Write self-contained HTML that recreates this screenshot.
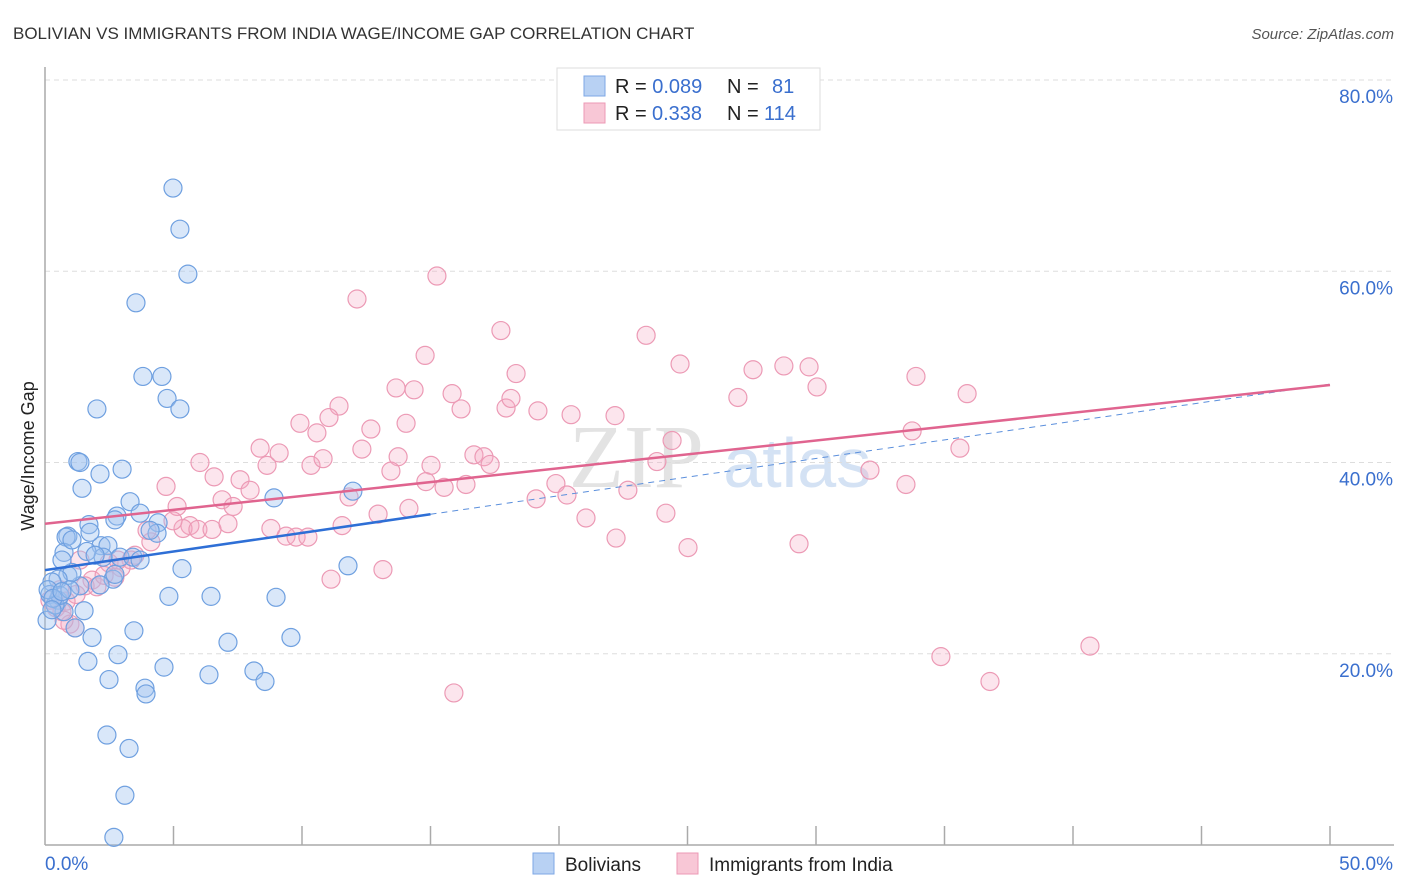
<!DOCTYPE html>
<html><head><meta charset="utf-8">
<style>
body{margin:0;background:#fff;font-family:"Liberation Sans",sans-serif;}
#wrap{position:relative;width:1406px;height:892px;overflow:hidden;}
</style></head>
<body>
<div id="wrap">
<svg id="chart" width="1406" height="892">
<text x="13" y="39" font-size="17" fill="#333">BOLIVIAN VS IMMIGRANTS FROM INDIA WAGE/INCOME GAP CORRELATION CHART</text>
<text x="1394" y="39" font-size="15" fill="#555" text-anchor="end" font-style="italic">Source: ZipAtlas.com</text>
<text x="720" y="487" font-size="90" fill="#e3e3e3" text-anchor="middle" font-family="Liberation Serif,serif">ZIP<tspan fill="#d4e2f4" font-family="Liberation Sans,sans-serif" font-size="70"> atlas</tspan></text>
<text transform="translate(34,456) rotate(-90)" font-size="18" fill="#222" text-anchor="middle">Wage/Income Gap</text>
<g id="grid"></g><g id="pts"></g><g id="lines"></g>
<g>
<rect x="557" y="68" width="263" height="62" fill="#fff" stroke="#ddd"/>
<rect x="584" y="76" width="21" height="20" fill="#b8d1f3" stroke="#7ea7e6"/>
<rect x="584" y="103" width="21" height="20" fill="#f8c7d6" stroke="#ec9ab5"/>
<text x="615" y="93" font-size="20" fill="#222">R = <tspan fill="#3a6fce">0.089</tspan><tspan x="727">N = </tspan><tspan x="772" fill="#3a6fce">81</tspan></text>
<text x="615" y="120" font-size="20" fill="#222">R = <tspan x="652" fill="#3a6fce">0.338</tspan><tspan x="727">N = </tspan><tspan x="764" fill="#3a6fce">114</tspan></text>
</g>
<g>
<rect x="533" y="853" width="21" height="21" fill="#b8d1f3" stroke="#7ea7e6"/>
<text x="565" y="871" font-size="19" fill="#222">Bolivians</text>
<rect x="677" y="853" width="21" height="21" fill="#f8c7d6" stroke="#ec9ab5"/>
<text x="709" y="871" font-size="19" fill="#222">Immigrants from India</text>
</g>
</svg>
</div>
<script>
const yTicks=[20,40,60,80];
const xTickLabels=["0.0%","50.0%"];
const bolX=[4.98,5.25,5.56,3.54,3.81,4.55,4.75,5.25,2.02,1.28,1.36,2.14,3.0,1.44,3.31,2.8,4.4,3.7,8.91,11.98,1.71,0.89,0.82,2.18,2.45,0.74,1.63,2.92,3.42,2.65,1.36,0.89,1.05,0.51,0.27,0.19,0.51,0.74,1.17,1.52,1.83,1.67,2.49,2.84,3.46,4.63,3.89,3.93,5.33,4.82,6.46,7.12,6.38,8.13,8.56,8.99,9.57,11.79,2.41,3.27,3.11,2.68,0.08,0.39,0.58,0.12,0.31,0.97,2.14,2.72,0.66,1.05,1.75,4.36,2.26,2.72,1.95,3.7,4.09,0.27,0.66];
const bolY=[68.7,64.4,59.7,56.7,49.0,49.0,46.7,45.6,45.6,40.1,40.0,38.8,39.3,37.3,35.9,34.4,33.7,34.7,36.3,37.0,33.5,32.3,32.2,31.3,31.3,30.6,30.7,30.1,30.1,27.8,27.1,28.2,28.5,27.8,27.5,26.2,25.6,24.4,22.7,24.5,21.7,19.2,17.3,19.9,22.4,18.6,16.4,15.8,28.9,26.0,26.0,21.2,17.8,18.2,17.1,25.9,21.7,29.2,11.5,10.1,5.2,0.8,23.5,25.1,26.1,26.7,25.8,26.7,27.2,28.3,29.8,31.9,32.7,32.6,30.1,34.0,30.3,29.8,32.9,24.6,26.5];
const indX=[15.25,12.14,17.74,23.39,14.79,24.71,18.33,27.55,28.75,29.73,30.04,33.89,35.88,13.66,14.36,15.84,11.44,11.05,9.92,14.05,16.19,17.94,18.13,19.18,20.47,22.18,26.96,10.58,12.68,24.4,33.74,35.6,6.03,8.37,8.64,9.11,6.58,7.59,7.98,10.35,10.82,12.33,13.74,15.02,16.69,17.08,17.32,13.46,14.82,15.53,16.38,19.88,20.31,19.11,22.68,23.81,32.1,33.5,4.71,5.14,6.89,7.32,5.64,5.37,5.95,6.5,7.12,8.79,9.38,9.77,10.23,11.56,11.83,12.96,14.16,21.05,22.22,24.16,25.02,29.34,4.12,3.5,3.35,2.96,3.97,4.98,2.49,1.83,1.56,1.21,2.02,2.72,0.82,0.43,0.66,0.97,1.17,0.19,0.58,11.13,13.15,15.91,34.86,36.77,40.66,0.74,2.3,1.36,2.84];
const indY=[59.5,57.1,53.8,53.3,51.2,50.3,49.3,49.7,50.1,50.0,47.9,49.0,47.2,47.8,47.6,47.2,45.9,44.7,44.1,44.1,45.6,45.7,46.7,45.4,45.0,44.9,46.8,43.1,43.5,42.3,43.3,41.5,40.0,41.5,39.7,41.0,38.5,38.2,37.1,39.7,40.4,41.4,40.6,39.7,40.8,40.6,39.8,39.1,38.0,37.4,37.7,37.8,36.6,36.2,37.1,40.1,39.2,37.7,37.5,35.4,36.1,35.4,33.4,33.1,33.0,33.0,33.6,33.1,32.3,32.2,32.2,33.4,36.4,34.6,35.2,34.2,32.1,34.7,31.1,31.5,31.7,30.3,29.8,29.0,32.9,33.9,29.5,27.7,27.1,26.2,27.0,28.0,25.5,24.8,24.4,23.1,22.7,25.6,26.7,27.8,28.8,15.9,19.7,17.1,20.8,23.5,28.2,29.8,29.8];
const bolTrend=[28.75,48.2];
const indTrend=[33.6,48.1];
const X0=45,X1=1330,Y0=845,YTOP=80;
function sx(v){return X0+(v/50)*(X1-X0);}
function sy(v){return Y0-(v/80)*(Y0-YTOP);}
const NS="http://www.w3.org/2000/svg";
function mk(tag,attrs,parent){const e=document.createElementNS(NS,tag);for(const k in attrs)e.setAttribute(k,attrs[k]);parent.appendChild(e);return e;}
const grid=document.getElementById('grid');
yTicks.forEach(t=>{
 const l=mk('line',{x1:X0,x2:1394,y1:sy(t),y2:sy(t),stroke:'#ddd','stroke-dasharray':'5,4'},grid);
 
 
 const tx=mk('text',{x:1393,y:sy(t)+23,'font-size':19,fill:'#3a6fce','text-anchor':'end'},grid);
 tx.textContent=t.toFixed(1)+'%';
 
 
});
const ax=mk('line',{x1:X0,x2:X0,y1:67,y2:Y0,stroke:'#aaa','stroke-width':1.5},grid);


const bx=mk('line',{x1:X0,x2:1394,y1:Y0,y2:Y0,stroke:'#aaa','stroke-width':1.5},grid);


for(let k=1;k<=10;k++){
 const t=mk('line',{x1:sx(k*5),x2:sx(k*5),y1:826,y2:Y0,stroke:'#aaa','stroke-width':1.5},grid);
 
 
}
const xl0=mk('text',{x:45,y:870,'font-size':19,fill:'#3a6fce'},grid);xl0.textContent=xTickLabels[0];


const xl1=mk('text',{x:1393,y:870,'font-size':19,fill:'#3a6fce','text-anchor':'end'},grid);xl1.textContent=xTickLabels[1];


const pts=document.getElementById('pts');
indX.forEach((v,i)=>{
 const c=mk('circle',{cx:sx(v),cy:sy(indY[i]),r:9,fill:'rgba(245,170,195,0.3)',stroke:'#ec9ab5','stroke-width':1.2},pts);
 
 
});
bolX.forEach((v,i)=>{
 const c=mk('circle',{cx:sx(v),cy:sy(bolY[i]),r:9,fill:'rgba(160,195,240,0.4)',stroke:'#6fa0e0','stroke-width':1.2},pts);
 
 
});
const lines=document.getElementById('lines');
function ty(tr,x){return tr[0]+(tr[1]-tr[0])*x/50;}
const bd=mk('line',{x1:sx(15),y1:sy(ty(bolTrend,15)),x2:sx(50),y2:sy(ty(bolTrend,50)),stroke:'#5b8fdc','stroke-width':1,'stroke-dasharray':'6,5'},lines);


const pl=mk('line',{x1:sx(0),y1:sy(indTrend[0]),x2:sx(50),y2:sy(indTrend[1]),stroke:'#e0648f','stroke-width':2.5},lines);


const bl=mk('line',{x1:sx(0),y1:sy(bolTrend[0]),x2:sx(15),y2:sy(ty(bolTrend,15)),stroke:'#2e6fd6','stroke-width':2.5},lines);


</script>
</body></html>
